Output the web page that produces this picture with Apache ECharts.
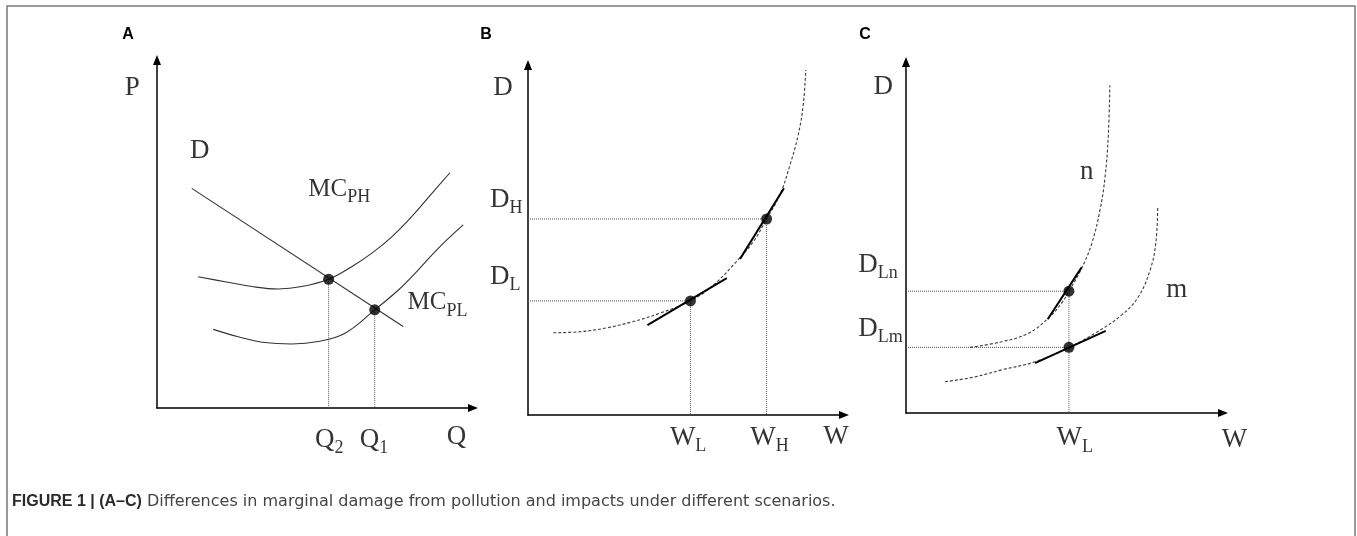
<!DOCTYPE html>
<html><head><meta charset="utf-8">
<script src="https://cdn.jsdelivr.net/npm/echarts@6/dist/echarts.min.js"></script>
<style>html,body{margin:0;padding:0;background:#fff}#c{width:1357px;height:536px}</style>
</head><body><div id="c"></div>
<script>
// ---------- Panel A (P vs Q) ----------
const demandA = [[11.0, 63.1], [77.9, 23.4]];
const mcPH = [[13, 37.7], [21.5, 36.3], [30, 34.9], [38.4, 34.2], [45.8, 34.9], [54.3, 37.0], [61.6, 40.6], [68, 44.5], [74.3, 49.2], [80.6, 55], [87, 61.7], [92.7, 67.6]];
const mcPL = [[17.8, 22.6], [25.7, 20.5], [34.2, 18.8], [42.6, 18.4], [51, 19.1], [59.5, 21.5], [68.9, 28.2], [76.4, 33.9], [82.7, 39.7], [89, 45.9], [96.9, 52.6]];
const dotsA = [[54.3, 37.0], [68.9, 28.2]];
const labelsA = [['{m|P}', -7.8, 91.9, 'center'], ['{m|D}', 13.5, 73.9, 'center'], ['{c|MC}{s|PH}', 47.9, 62.9, 'left'], ['{c|MC}{s|PL}', 79.3, 30.3, 'left'], ['{m|Q}{s|2}', 50.0, -9.2, 'left'], ['{m|Q}{s|1}', 64.2, -9.2, 'left'], ['{m|Q}', 91.7, -8.2, 'left']];

// ---------- Panel B (D vs W) ----------
const curveB = [[8.0, 23.5], [16.5, 23.8], [24.9, 24.9], [33.3, 26.7], [41.8, 29.1], [51.4, 32.6], [58.6, 37.1], [65.0, 42.9], [71.3, 49.5], [75.5, 56.0], [79.7, 62.9], [82.9, 71.4], [85.5, 80.0], [87.1, 88.6], [87.9, 98.6]];
const dotsB = [[51.4, 32.6], [75.5, 56.0]];
const tangentsB = [[[37.8, 25.7], [62.9, 39.1]], [[67.1, 44.6], [81.0, 64.8]]];
const labelsB = [['{m|D}', -7.9, 93.4, 'center'], ['{m|D}{s|H}', -12.0, 61.4, 'left'], ['{m|D}{s|L}', -12.0, 39.4, 'left'], ['{m|W}{s|L}', 44.9, -6.6, 'left'], ['{m|W}{s|H}', 70.3, -6.6, 'left'], ['{m|W}', 93.4, -6.3, 'left']];

// ---------- Panel C (D vs W, curves n and m) ----------
const curveN = [[20.2, 18.7], [30.2, 20.3], [38.6, 22.7], [44.9, 27.0], [49.1, 31.3], [51.4, 34.7], [55.4, 41.2], [58.6, 48.3], [61.2, 57.8], [62.8, 67.3], [63.8, 78.7], [64.3, 93.4]];
const curveM = [[12.3, 8.9], [21.8, 10.3], [30.2, 12.3], [40.7, 14.6], [51.4, 18.7], [59.6, 22.7], [68.0, 27.9], [73.3, 33.1], [77.0, 40.7], [78.8, 48.3], [79.4, 58.8]];
const dotsC = [[51.4, 34.7], [51.4, 18.7]];
const tangentsC = [[[44.7, 26.7], [55.4, 41.5]], [[40.7, 14.2], [63.0, 23.4]]];
const labelsC = [['{m|D}', -7.2, 93.0, 'center'], ['{m|n}', 57.0, 68.7, 'center'], ['{m|m}', 85.4, 35.0, 'center'], ['{m|D}{s|Ln}', -15.1, 42.2, 'left'], ['{m|D}{s|Lm}', -15.1, 24.1, 'left'], ['{m|W}{s|L}', 47.5, -7.2, 'left'], ['{m|W}', 99.6, -7.7, 'left']];

const panelLetters = ['A', 'B', 'C'];
const captionBold = 'FIGURE 1 | (A\u2013C)';
const captionText = ' Differences in marginal damage from pollution and impacts under different scenarios.';

// ---------- styles ----------
const SERIF = '"Liberation Serif","Times New Roman",serif';
const SANS = '"Liberation Sans",Arial,Helvetica,sans-serif';
const solid = {color: '#333', width: 1.1, type: 'solid'};
const dashed = {color: '#3c3c3c', width: 1.1, type: [3, 2]};
const dotted = {color: '#555', width: 1, type: [1, 1]};
const tangent = {color: '#000', width: 2, type: 'solid'};
const rich = {
  m: {fontFamily: SERIF, fontSize: 27, lineHeight: 30, verticalAlign: 'middle', color: '#000'},
  c: {fontFamily: SERIF, fontSize: 25, lineHeight: 30, verticalAlign: 'middle', color: '#000'},
  s: {fontFamily: SERIF, fontSize: 18, verticalAlign: 'middle', padding: [17, 0, 0, 0], color: '#000'}
};

const grids = [
  {left: 157, top: 60, width: 316, height: 348},
  {left: 528, top: 65, width: 316, height: 350},
  {left: 906, top: 62, width: 317, height: 351}
];
function axis(i) {
  return {
    type: 'value', gridIndex: i, min: 0, max: 100,
    axisLine: {show: true, symbol: ['none', 'triangle'], symbolSize: [8, 10], lineStyle: {color: '#000', width: 1.5}},
    axisTick: {show: false}, axisLabel: {show: false}, splitLine: {show: false}
  };
}
const series = [];
function line(data, g, style, smooth) {
  series.push({type: 'line', xAxisIndex: g, yAxisIndex: g, data: data, showSymbol: false, symbol: 'none',
    smooth: smooth || false, lineStyle: style, silent: true, clip: false, z: 2});
}
function dots(data, g) {
  series.push({type: 'scatter', xAxisIndex: g, yAxisIndex: g, data: data, symbolSize: 11,
    itemStyle: {color: '#000'}, silent: true, z: 5});
}
function labels(arr, g) {
  series.push({type: 'scatter', xAxisIndex: g, yAxisIndex: g, clip: false, silent: true, z: 6,
    symbolSize: 1, itemStyle: {color: 'rgba(0,0,0,0)'},
    data: arr.map(a => ({value: [a[1], a[2]], label: {show: true, position: 'inside', formatter: a[0], align: a[3], verticalAlign: 'middle', rich: rich}}))
  });
}

// Panel A
dotsA.forEach(d => line([d, [d[0], 0]], 0, dotted));
line(demandA, 0, solid);
line(mcPH, 0, solid, 0.4);
line(mcPL, 0, solid, 0.4);
dots(dotsA, 0);
labels(labelsA, 0);

// Panel B
dotsB.forEach(d => { line([[0, d[1]], d], 1, dotted); line([d, [d[0], 0]], 1, dotted); });
line(curveB, 1, dashed, 0.4);
tangentsB.forEach(t => line(t, 1, tangent));
dots(dotsB, 1);
labels(labelsB, 1);

// Panel C
dotsC.forEach(d => line([[0, d[1]], d], 2, dotted));
line([dotsC[0], [dotsC[0][0], 0]], 2, dotted);
line(curveN, 2, dashed, 0.4);
line(curveM, 2, dashed, 0.4);
tangentsC.forEach(t => line(t, 2, tangent));
dots(dotsC, 2);
labels(labelsC, 2);

const letterPos = [[128, 35], [486, 35], [865, 35]];
const graphic = [
  {type: 'rect', shape: {x: 7, y: 6, width: 1348, height: 600}, style: {fill: 'none', stroke: '#7a7a7a', lineWidth: 1.5}, silent: true},
  {type: 'text', x: 12, y: 502, style: {text: '{b|' + captionBold + '}{r|' + captionText + '}', textVerticalAlign: 'middle',
    rich: {b: {fontFamily: SANS, fontWeight: 'bold', fontSize: 16, fill: '#2a2a2a'}, r: {fontFamily: '"DejaVu Sans",sans-serif', fontSize: 16, fill: '#444'}}}, silent: true}
].concat(panelLetters.map((t, i) => ({type: 'text', x: letterPos[i][0], y: letterPos[i][1],
  style: {text: t, font: 'bold 16px ' + SANS, fill: '#000', textAlign: 'center', textVerticalAlign: 'middle'}, silent: true})));

const chart = echarts.init(document.getElementById('c'), null, {renderer: 'canvas'});
chart.setOption({
  animation: false,
  backgroundColor: '#fff',
  grid: grids,
  xAxis: [axis(0), axis(1), axis(2)],
  yAxis: [axis(0), axis(1), axis(2)],
  graphic: graphic,
  series: series
});
</script></body></html>
